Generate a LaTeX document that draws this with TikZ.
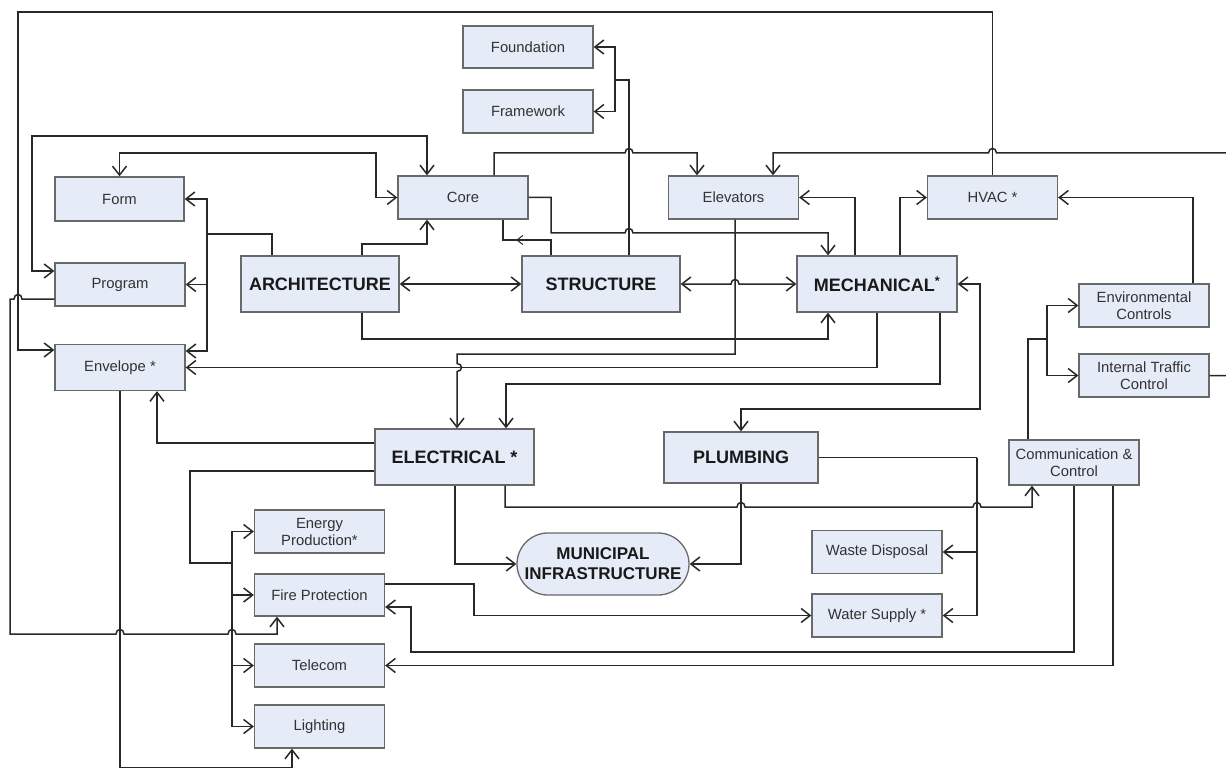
\documentclass[tikz,border=0pt]{standalone}
\usepackage{fontspec}
\setmainfont{Liberation Sans}
\usetikzlibrary{arrows.meta,decorations.markings}
\definecolor{boxfill}{RGB}{229,235,247}
\definecolor{boxline}{RGB}{105,105,105}
\definecolor{linecol}{RGB}{40,40,40}
\definecolor{txt}{RGB}{50,50,50}
\begin{document}
\begin{tikzpicture}[x=1pt,y=-1pt,
 box/.style={draw=boxline, fill=boxfill, line width=1.3pt, inner sep=0pt, align=center, text=txt, font=\fontsize{14.8}{17}\selectfont, minimum width=130pt, minimum height=43pt},
 big/.style={box, text=black!90, font=\bfseries\fontsize{18}{21}\selectfont, minimum width=158pt, minimum height=56pt},
 ln/.style={draw=linecol, line width=1.5pt},
 arr/.style={ln, -{Straight Barb[length=9pt,width=14pt]}},
 darr/.style={ln, {Straight Barb[length=9pt,width=14pt]}-{Straight Barb[length=9pt,width=14pt]}},
]
\useasboundingbox[fill=white] (0,0) rectangle (1226,770);

% nodes
\node[box, minimum height=42pt] (found) at (528,47) {Foundation};
\node[box] (frame) at (528,111.5) {Framework};
\node[box, minimum width=129pt, minimum height=44pt] (form) at (119.5,199) {Form};
\node[box] (core) at (463,197.5) {Core};
\node[box] (elev) at (733.5,197.5) {Elevators};
\node[box] (hvac) at (992.5,197.5) {HVAC *};
\node[box] (prog) at (120,284.5) {Program};
\node[box, minimum height=46pt] (env) at (120,367.5) {Envelope *};
\node[big] (arch) at (320,284) {ARCHITECTURE};
\node[big] (struc) at (601,284) {STRUCTURE};
\node[big, minimum width=160pt] (mech) at (877,284) {MECHANICAL\textsuperscript{*}};
\node[box] (envc) at (1144,305.5) {Environmental\\Controls};
\node[box] (itc) at (1144,375.5) {Internal Traffic\\Control};
\node[box, minimum height=45pt] (comm) at (1074,462.5) {Communication \&\\Control};
\node[big, minimum width=159pt] (elec) at (454.5,457) {ELECTRICAL *};
\node[big, minimum width=154pt, minimum height=51pt] (plumb) at (741,457.5) {PLUMBING};
\node[box] (energy) at (319.5,531.5) {Energy\\Production*};
\node[box, minimum height=42pt] (fire) at (319.5,595) {Fire Protection};
\node[box] (tele) at (319.5,665.5) {Telecom};
\node[box] (light) at (319.5,726.5) {Lighting};
\node[box, minimum width=172pt, minimum height=62pt, rounded corners=31pt, text=black!90, font=\bfseries\fontsize{17}{20}\selectfont] (muni) at (603,564) {MUNICIPAL\\INFRASTRUCTURE};
\node[box] (waste) at (877,552) {Waste Disposal};
\node[box] (water) at (877,615.5) {Water Supply *};

% junctions
\coordinate (sj) at (615,80);
\coordinate (aj) at (207,234);
\coordinate (cj) at (1047,339);
\coordinate (ej) at (232,563);
\coordinate (pj) at (977,457.5);

% HVAC -> Envelope
\draw[arr] (hvac.north) -- (992.5,12) -- (18,12) -- (18,350) -- (env.west |- 0,350);
% Program <-> Core
\draw[darr] (prog.west |- 0,271) -- (32,271) -- (32,136) -- (427,136) -- (427,0 |- core.north);
% Form <-> Core
\draw[darr] (form.north) -- (119.5,153) -- (376,153) -- (376,197.5) -- (core.west);
% Core -> Elevators
\draw[arr] (494,0 |- core.north) -- (494,153) -- (625,153) .. controls (625,147) and (633,147) .. (633,153) -- (697,153) -- (697,0 |- elev.north);
% Structure -> Foundation, Framework
\draw[ln] (629,0 |- struc.north) -- (629,80) -- (sj);
\draw[arr] (sj) |- (found.east);
\draw[arr] (sj) |- (frame.east);
% Core -> Mechanical
\draw[arr] (core.east) -- (551,197.5) -- (551,233) -- (625,233) .. controls (625,227) and (633,227) .. (633,233) -- (828,233) -- (828,0 |- mech.north);
% Structure -> Core
\draw[ln, postaction={decorate}, decoration={markings, mark=at position 0.6 with {\arrow{Straight Barb[length=6pt,width=9pt,line width=1pt]}}}] (551,0 |- struc.north) -- (551,240) -- (503,240) -- (503,0 |- core.south);
% Architecture -> Core
\draw[arr] (362,0 |- arch.north) |- (427,244) -- (427,0 |- core.south);
% Architecture -> Form, Program, Envelope
\draw[ln] (272,0 |- arch.north) |- (aj);
\draw[arr] (aj) |- (form.east);
\draw[arr] (aj) |- (prog.east);
\draw[arr] (aj) |- (env.east |- 0,351);
% Architecture <-> Structure <-> Mechanical
\draw[darr] (arch.east) -- (struc.west);
\draw[darr] (struc.east) -- (731,284) .. controls (731,278) and (739,278) .. (739,284) -- (mech.west);
% Architecture -> Mechanical
\draw[arr] (362,0 |- arch.south) |- (828,339) -- (828,0 |- mech.south);
% Elevators -> Electrical
\draw[arr] (735,0 |- elev.south) |- (457,354) -- (457,363.5) .. controls (463,363.5) and (463,371.5) .. (457,371.5) -- (457,0 |- elec.north);
% Mechanical -> Envelope
\draw[arr] (mech.south) |- (env.east);
% Mechanical -> Electrical
\draw[arr] (940,0 |- mech.south) |- (506,384) -- (506,0 |- elec.north);
% Mechanical <-> Plumbing
\draw[darr] (mech.east) -| (980,409) -| (plumb.north);
% Mechanical -> Elevators, HVAC
\draw[arr] (855,0 |- mech.north) |- (elev.east);
\draw[arr] (900,0 |- mech.north) |- (hvac.west);
% Environmental Controls -> HVAC
\draw[arr] (1193,0 |- envc.north) |- (hvac.east);
% Communication -> Environmental Controls, Internal Traffic
\draw[ln] (1028,0 |- comm.north) |- (cj);
\draw[arr] (cj) |- (envc.west);
\draw[arr] (cj) |- (itc.west);
% Internal Traffic -> Elevators
\draw[arr] (itc.east) -- (1245,375.5) -- (1245,153) -- (996.5,153) .. controls (996.5,147) and (988.5,147) .. (988.5,153) -- (773,153) -- (773,0 |- elev.north);
% Electrical -> Envelope
\draw[arr] (elec.west |- 0,443) -| (157,0 |- env.south);
% Electrical -> Energy, Fire, Telecom, Lighting
\draw[ln] (elec.west |- 0,471) -| (190,563) -- (ej);
\draw[arr] (ej) |- (energy.west);
\draw[arr] (ej) |- (fire.west);
\draw[arr] (ej) |- (tele.west);
\draw[arr] (ej) |- (light.west);
% Program -> Fire Protection
\draw[arr] (prog.west |- 0,299) -- (22,299) .. controls (22,293) and (14,293) .. (14,299) -- (10,299) -- (10,634) -- (116,634) .. controls (116,628) and (124,628) .. (124,634) -- (228,634) .. controls (228,628) and (236,628) .. (236,634) -- (277,634) -- (277,0 |- fire.south);
% Envelope -> Lighting
\draw[arr] (env.south) |- (292,767.5) -- (292,0 |- light.south);
% Electrical -> Municipal
\draw[arr] (455,0 |- elec.south) |- (muni.west);
% Electrical -> Communication
\draw[arr] (505,0 |- elec.south) -- (505,507) -- (737,507) .. controls (737,501) and (745,501) .. (745,507) -- (973,507) .. controls (973,501) and (981,501) .. (981,507) -- (1032,507) -- (1032,0 |- comm.south);
% Plumbing -> Municipal
\draw[arr] (plumb.south) |- (muni.east);
% Plumbing -> Waste, Water
\draw[ln] (plumb.east) -- (pj);
\draw[arr] (pj) |- (waste.east);
\draw[arr] (pj) |- (water.east);
% Fire Protection -> Water Supply
\draw[arr] (fire.east |- 0,584) -| (474,615.5) -- (water.west);
% Communication -> Fire Protection
\draw[arr] (1074,0 |- comm.south) |- (411,652) |- (fire.east |- 0,607);
% Communication -> Telecom
\draw[arr] (1113,0 |- comm.south) |- (tele.east);
\end{tikzpicture}
\end{document}
